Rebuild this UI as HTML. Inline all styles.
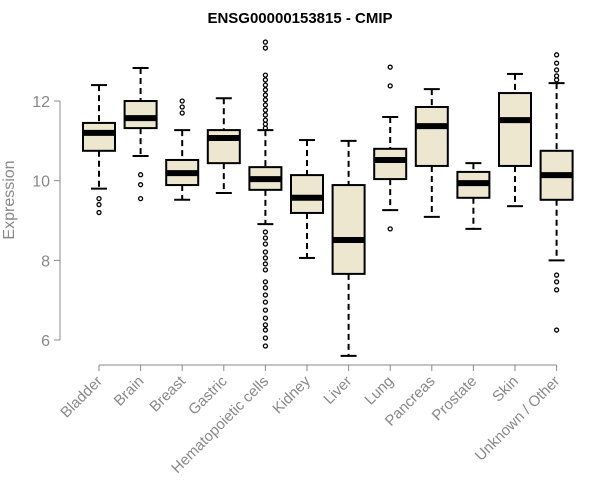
<!DOCTYPE html>
<html><head><meta charset="utf-8"><style>body{margin:0;background:#fff}svg{display:block}</style></head>
<body>
<svg id="c" width="600" height="500" font-family="Liberation Sans, sans-serif"></svg>
<script>
const categories=["Bladder","Brain","Breast","Gastric","Hematopoietic cells","Kidney","Liver","Lung","Pancreas","Prostate","Skin","Unknown / Other"];
const whiskerLow=[9.8,10.62,9.52,9.69,8.91,8.06,5.6,9.26,9.09,8.79,9.36,8.0];
const q1=[10.75,11.32,9.89,10.44,9.77,9.19,7.66,10.04,10.37,9.57,10.37,9.52];
const medians=[11.2,11.57,10.19,11.07,10.04,9.57,8.51,10.52,11.37,9.94,11.52,10.14];
const q3=[11.45,12.0,10.52,11.27,10.34,10.14,9.89,10.8,11.85,10.22,12.2,10.75];
const whiskerHigh=[12.4,12.83,11.27,12.07,11.27,11.02,11.0,11.6,12.3,10.44,12.68,12.45];
const outliers=[[9.55,9.4,9.2],[10.15,9.9,9.55],[12.0,11.85,11.7],[],
[13.48,13.33,12.65,12.53,12.4,12.28,12.15,12.03,11.9,11.77,11.65,11.52,11.42,11.32,8.71,8.56,8.41,8.21,8.06,7.91,7.76,7.46,7.31,7.13,6.95,6.75,6.55,6.38,6.25,6.05,5.85],
[],[],[12.85,12.38,8.79],[],[],[],[13.16,12.95,12.78,12.63,12.53,7.63,7.46,7.26,6.25]];
const yTicks=[6,8,10,12];
const svg=document.getElementById('c');
const NS='http://www.w3.org/2000/svg';
function y(v){return 340-(v-6)*39.83;}
function x(i){return 99+i*41.6;}
function mk(t,a,p){const e=document.createElementNS(NS,t);for(const k in a)e.setAttribute(k,a[k]);(p||svg).appendChild(e);return e;}
const title=mk('text',{x:300,y:23,'text-anchor':'middle','font-size':15,'font-weight':'bold'});
title.textContent='ENSG00000153815 - CMIP';


const ya=mk('line',{x1:60,x2:60,y1:y(12),y2:y(6),stroke:'#888'});


yTicks.forEach(t=>{
 mk('line',{x1:54,x2:60,y1:y(t),y2:y(t),stroke:'#888'});
 const l=mk('text',{x:50,y:y(t)+6,'text-anchor':'end','font-size':16,fill:'#888'});
 l.textContent=t;
 
 
});
const yt=mk('text',{x:14,y:200,'text-anchor':'middle','font-size':16,fill:'#888',transform:'rotate(-90 14 200)'});
yt.textContent='Expression';


const xa=mk('line',{x1:x(0),x2:x(11),y1:365,y2:365,stroke:'#888'});


categories.forEach((c,i)=>{
 const cx=x(i);
 mk('line',{x1:cx,x2:cx,y1:365,y2:371,stroke:'#888'});
 const l=mk('text',{x:cx+4,y:382,'text-anchor':'end','font-size':15,fill:'#888',transform:`rotate(-45 ${cx+4} 382)`});
 l.textContent=c;
 
 
 const g=mk('g',{});
 
 
 mk('line',{x1:cx,x2:cx,y1:y(whiskerHigh[i]),y2:y(q3[i]),stroke:'#000','stroke-width':2,'stroke-dasharray':'6,4'},g);
 mk('line',{x1:cx,x2:cx,y1:y(q1[i]),y2:y(whiskerLow[i]),stroke:'#000','stroke-width':2,'stroke-dasharray':'6,4'},g);
 mk('line',{x1:cx-8,x2:cx+8,y1:y(whiskerHigh[i]),y2:y(whiskerHigh[i]),stroke:'#000','stroke-width':2},g);
 mk('line',{x1:cx-8,x2:cx+8,y1:y(whiskerLow[i]),y2:y(whiskerLow[i]),stroke:'#000','stroke-width':2},g);
 mk('rect',{x:cx-16,y:y(q3[i]),width:32,height:y(q1[i])-y(q3[i]),fill:'#ede7cf',stroke:'#000','stroke-width':2},g);
 mk('line',{x1:cx-16,x2:cx+16,y1:y(medians[i]),y2:y(medians[i]),stroke:'#000','stroke-width':6},g);
 outliers[i].forEach(v=>{mk('circle',{cx:cx,cy:y(v),r:2,fill:'none',stroke:'#000','stroke-width':1.3},g);});
});
</script>
</body></html>
